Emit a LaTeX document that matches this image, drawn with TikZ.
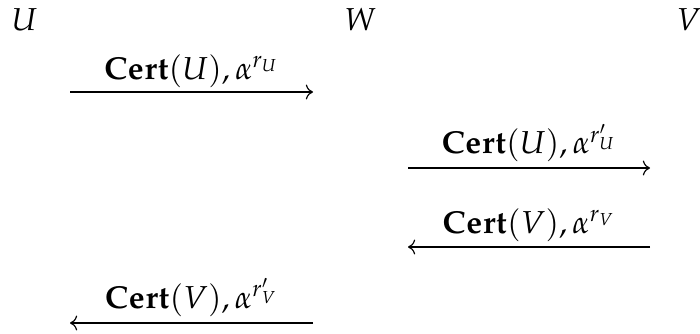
\documentclass[tikz,border=0pt]{standalone}
\usepackage{amsmath,amssymb}
\usepackage{mathpazo}
\usetikzlibrary{arrows.meta,positioning,calc}

\begin{document}
\begin{tikzpicture}[
    x=0.345pt,y=-0.345pt,
    every node/.style = {font=\fontsize{10.95pt}{13.6pt}\selectfont},
    ent/.style = {inner sep=0pt,anchor=base west},
    msg/.style = {inner sep=0pt,anchor=base},
    flo/.style = {->,line width=0.4pt},
  ]
  \useasboundingbox (0,0) rectangle (700,334);

  % Parties
  \node[ent] (U) at (11,31)  {$U$};
  \node[ent] (W) at (344,31) {$W$};
  \node[ent] (V) at (676,31) {$V$};

  % U vers W
  \coordinate (m1a) at (70,92);
  \coordinate (m1b) at (313,92);
  \draw[flo] (m1a) -- (m1b);
  \node[msg] (l1) at ($(m1a)!0.5!(m1b)+(0,-13)$) {$\mathbf{Cert}(U), \alpha^{r_U}$};

  % W vers V
  \coordinate (m2a) at (408,168);
  \coordinate (m2b) at (650,168);
  \draw[flo] (m2a) -- (m2b);
  \node[msg] (l2) at ($(m2a)!0.5!(m2b)+(0,-14)$) {$\mathbf{Cert}(U), \alpha^{r'_U}$};

  % V vers W
  \coordinate (m3a) at (650,247);
  \coordinate (m3b) at (408,247);
  \draw[flo] (m3a) -- (m3b);
  \node[msg] (l3) at ($(m3a)!0.5!(m3b)+(0,-14)$) {$\mathbf{Cert}(V), \alpha^{r_V}$};

  % W vers U
  \coordinate (m4a) at (313,323);
  \coordinate (m4b) at (70,323);
  \draw[flo] (m4a) -- (m4b);
  \node[msg] (l4) at ($(m4a)!0.5!(m4b)+(0,-15)$) {$\mathbf{Cert}(V), \alpha^{r'_V}$};

\end{tikzpicture}
\end{document}
